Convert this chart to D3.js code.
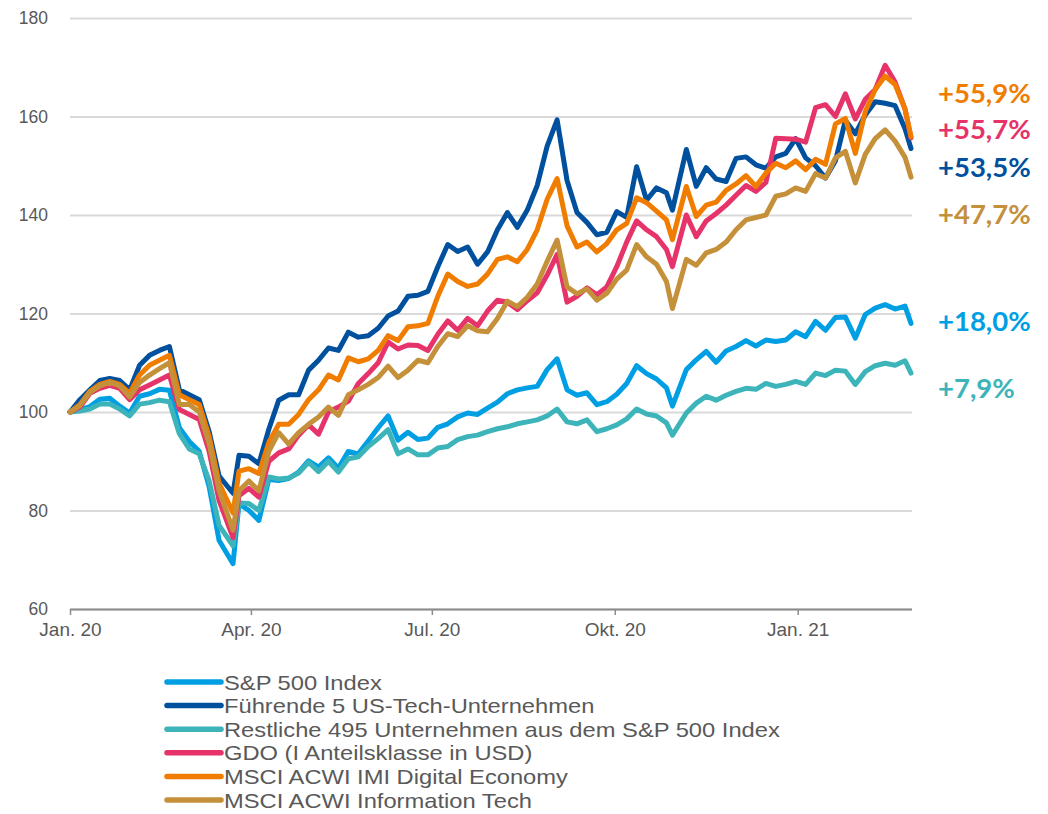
<!DOCTYPE html>
<html lang="de">
<head>
<meta charset="UTF-8">
<title>Performance Tech</title>
<script src="https://cdn.jsdelivr.net/npm/d3@7"></script>
<style>
    body { margin: 0; background: #fff; }
    svg { display: block; font-family: "Liberation Sans", Arial, sans-serif; }
    .grid line { stroke: #d9d9d9; stroke-width: 2px; }
    .grid text, .xaxis text { fill: #595959; }
    .end-label { font-family: Lato, "Open Sans", sans-serif; font-weight: 700; }
</style>
</head>
<body>
<svg width="1048" height="814"></svg>
<script>
// dates of the sampled points (roughly every 5 days)
const dates = [
    "2020-01-01","2020-01-06","2020-01-11","2020-01-16","2020-01-21","2020-01-26","2020-01-31","2020-02-05","2020-02-10","2020-02-15",
    "2020-02-20","2020-02-25","2020-03-01","2020-03-06","2020-03-11","2020-03-16","2020-03-23","2020-03-26","2020-03-31","2020-04-05",
    "2020-04-10","2020-04-15","2020-04-20","2020-04-25","2020-04-30","2020-05-05","2020-05-10","2020-05-15","2020-05-20","2020-05-25",
    "2020-05-30","2020-06-04","2020-06-09","2020-06-14","2020-06-19","2020-06-24","2020-06-29","2020-07-04","2020-07-09","2020-07-14",
    "2020-07-19","2020-07-24","2020-07-29","2020-08-03","2020-08-08","2020-08-13","2020-08-18","2020-08-23","2020-08-28","2020-09-02",
    "2020-09-07","2020-09-12","2020-09-17","2020-09-22","2020-09-27","2020-10-02","2020-10-07","2020-10-12","2020-10-17","2020-10-22",
    "2020-10-27","2020-10-30","2020-11-06","2020-11-11","2020-11-16","2020-11-21","2020-11-26","2020-12-01","2020-12-06","2020-12-11",
    "2020-12-16","2020-12-21","2020-12-26","2020-12-31","2021-01-05","2021-01-10","2021-01-15","2021-01-20","2021-01-25","2021-01-30",
    "2021-02-04","2021-02-09","2021-02-14","2021-02-19","2021-02-24","2021-02-27"
];

const sp500 = [
    100, 100.5, 101.1, 102.6, 102.8, 101.2, 99.8, 103.2, 103.7, 104.6,
    104.4, 96.8, 94, 92, 84.8, 73.9, 69.2, 81.4, 80, 78,
    86.3, 86.1, 86.5, 87.8, 90.1, 88.8, 90.7, 88.6, 92, 91.5,
    94.1, 96.8, 99.2, 94.3, 95.9, 94.4, 94.7, 96.9, 97.6, 99,
    99.8, 99.5, 100.8, 102, 103.7, 104.5, 104.9, 105.2, 108.6, 110.8,
    104.5, 103.4, 103.9, 101.5, 102.1, 103.6, 105.8, 109.4, 107.8, 106.7,
    104.9, 101.2, 108.6, 110.6, 112.3, 110.1, 112.4, 113.3, 114.5, 113.4,
    114.6, 114.3, 114.6, 116.3, 115.3, 118.4, 116.6, 119.2, 119.3, 115,
    119.8, 121.1, 121.8, 120.9, 121.5, 118
];
const top5 = [
    100, 102.5, 104.5, 106.4, 106.8, 106.4, 104.5, 109.5, 111.5, 112.5,
    113.3, 104.5, 103.5, 102.5, 96, 87, 83.5, 91.2, 91, 89.5,
    96.5, 102.4, 103.5, 103.5, 108.5, 110.5, 113, 112.5, 116.2, 115.2,
    115.5, 117, 119.5, 120.5, 123.5, 123.7, 124.5, 129.5, 134, 132.6,
    133.5, 130, 132.5, 137, 140.5, 137.5, 141, 146, 154, 159.3,
    147, 140.5, 138.5, 136, 136.5, 140.7, 139.5, 149.8, 143, 145.5,
    144.5, 141, 153.3, 145.8, 149.6, 147.3, 146.8, 151.5, 151.8, 150.2,
    149.5, 151.8, 152.5, 155.5, 151.6, 150, 147.5, 151, 159.2, 156.5,
    160.3, 163, 162.7, 162.2, 157.5, 153.5
];
const rest495 = [
    100, 100.2, 100.6, 101.6, 101.6, 100.6, 99.2, 101.6, 101.9, 102.4,
    102.1, 95.6, 92.5, 91.5, 86, 77, 72.8, 81.5, 81.4, 80,
    86.8, 86.4, 86.6, 87.6, 89.8, 87.9, 90, 87.8, 90.5, 90.9,
    93, 94.6, 96.4, 91.5, 92.5, 91.3, 91.3, 92.7, 93, 94.4,
    95, 95.3, 96, 96.6, 97, 97.6, 98, 98.4, 99.2, 100.6,
    98, 97.6, 98.4, 96, 96.6, 97.4, 98.6, 100.6, 99.6, 99.2,
    97.8, 95.3, 99.8, 101.8, 103.2, 102.4, 103.4, 104.2, 104.8, 104.6,
    105.8, 105.2, 105.6, 106.2, 105.6, 107.9, 107.4, 108.5, 108.3, 105.6,
    108.2, 109.4, 109.9, 109.5, 110.4, 107.9
];
const gdo = [
    100, 101, 103.8, 104.8, 105.4, 104.8, 102.5, 104.5, 105.5, 106.5,
    107.5, 100.5, 99.5, 98.5, 92, 82, 74.5, 83, 84.5, 82.7,
    90, 91.7, 92.5, 95.3, 97.4, 95.5, 100, 101, 102.2, 105.8,
    107.8, 110, 114.2, 112.8, 113.6, 113.5, 112.5, 115.8, 118.5, 116.6,
    119, 117.5, 120.5, 122.7, 122.3, 120.8, 122.6, 124.2, 127.8, 132,
    122.3, 123.5, 125.2, 123.8, 125.4, 129.5, 134.5, 138.8, 137, 135.6,
    133, 129.5, 140, 135.6, 138.8, 140.3, 142, 144, 146, 144.8,
    146.6, 155.6, 155.5, 155.4, 154.8, 161.8, 162.4, 160, 164.6, 159.5,
    163.5, 165.5, 170.4, 167, 161.5, 155.7
];
const digitalEconomy = [
    100, 101.5, 104.2, 105.6, 106.2, 105.6, 103.8, 107.5, 109.5, 110.5,
    111.5, 103.5, 102.5, 101.5, 95, 85.5, 79.5, 88, 88.5, 87.5,
    93.8, 97.5, 97.5, 99.5, 102.5, 104.5, 107.5, 106.5, 111, 110.2,
    110.8, 112.5, 115.5, 114.5, 117.3, 117.5, 118, 123.5, 128, 126.5,
    125.5, 126, 128, 131, 131.5, 130.5, 133, 137, 143.2, 147.4,
    137.8, 133.5, 134.5, 132.5, 134.2, 137, 138.3, 143.5, 142.5, 140.8,
    139, 135, 145.8, 139.7, 142, 142.6, 145, 146.3, 148, 145.8,
    148.5, 150.5, 149.6, 151, 149.2, 151.3, 150.3, 158.5, 159.6, 152.5,
    161, 165.5, 168.2, 166.5, 161.5, 155.9
];
const infoTech = [
    100, 101.3, 104, 105.3, 106, 105.3, 103, 106, 107.5, 108.8,
    110, 101.5, 101.5, 100, 93.5, 84, 76, 84, 86, 84,
    92, 95.8, 93.5, 95.8, 97.5, 99, 101, 99.3, 103.5, 104.5,
    105.6, 107, 109.3, 107, 108.5, 110.5, 110, 113.3, 115.9, 115.3,
    117.5, 116.5, 116.3, 119, 122.5, 121.4, 123.3, 126, 130.6, 134.9,
    125.4, 124, 125, 122.7, 124.1, 127, 128.8, 134, 131.5, 130,
    126.5, 121, 131, 129.8, 132.3, 133, 134.5, 137, 139, 139.5,
    140, 143.8, 144.3, 145.5, 144.8, 148.4, 147.5, 151.6, 152.9, 146.5,
    152.3, 155.5, 157.3, 155, 151.7, 147.7
];

const seriesNames = [
    "S&P 500 Index",
    "Führende 5 US-Tech-Unternehmen",
    "Restliche 495 Unternehmen aus dem S&P 500 Index",
    "GDO (I Anteilsklasse in USD)",
    "MSCI ACWI IMI Digital Economy",
    "MSCI ACWI Information Tech"
];
const seriesValues = [sp500, top5, rest495, gdo, digitalEconomy, infoTech];
const seriesColors = ["#009fe3", "#00509e", "#3db4b9", "#e6336a", "#f07d00", "#c4903a"];

// performance labels on the right, top to bottom
const endLabels = ["+55,9%", "+55,7%", "+53,5%", "+47,7%", "+18,0%", "+7,9%"];
const endLabelSeries = [4, 3, 1, 5, 0, 2];
const endLabelY = [93, 129, 167, 214, 321, 388];

const yTicks = [60, 80, 100, 120, 140, 160, 180];
const xTickDates = ["2020-01-01", "2020-04-01", "2020-07-01", "2020-10-01", "2021-01-01"];
const xTickLabels = ["Jan. 20", "Apr. 20", "Jul. 20", "Okt. 20", "Jan. 21"];

const parse = d3.timeParse("%Y-%m-%d");
const svg = d3.select("svg");

const x = d3.scaleTime()
    .domain([parse("2020-01-01"), parse("2021-02-27")])
    .range([70, 911]);
const y = d3.scaleLinear().domain([60, 180]).range([609, 18]);

// gridlines + y labels
const gy = svg.append("g").attr("class", "grid")
    .attr("transform", "translate(70,0)")
    .call(d3.axisLeft(y).tickValues(yTicks).tickSize(-842).tickPadding(22));
gy.select(".domain").remove();
gy.selectAll("text").style("font-size", "17.5px");

// x axis
const gx = svg.append("g").attr("class", "xaxis")
    .attr("transform", "translate(0,609)")
    .call(d3.axisBottom(x)
        .tickValues(xTickDates.map(parse))
        .tickFormat((d, i) => xTickLabels[i])
        .tickSize(6).tickSizeOuter(0).tickPadding(8));
gx.select(".domain").attr("d", "M70,0.5H912").attr("stroke", "#8c8c8c").attr("stroke-width", 2);
gx.selectAll(".tick line").attr("stroke", "#8c8c8c").attr("stroke-width", 1.5);
gx.selectAll("text").style("font-size", "19px");

// lines
const line = d3.line()
    .x((v, i) => x(parse(dates[i])))
    .y(v => y(v));

svg.append("g").selectAll("path")
    .data(seriesValues)
    .join("path")
    .attr("d", d => line(d))
    .attr("fill", "none")
    .attr("stroke", (d, i) => seriesColors[i])
    .attr("stroke-width", 5)
    .attr("stroke-linejoin", "round")
    .attr("stroke-linecap", "round");

// end labels
svg.append("g").selectAll("text")
    .data(endLabels)
    .join("text")
    .attr("class", "end-label")
    .attr("x", 938)
    .attr("y", (d, i) => endLabelY[i])
    .attr("dy", "0.36em")
    .attr("fill", (d, i) => seriesColors[endLabelSeries[i]])
    .style("font-size", "27.5px")
    .text(d => d);

// legend (text a bit stretched sideways so the tight rows do not collide)
const legend = svg.append("g").attr("transform", "translate(165,682)");
const rows = legend.selectAll("g")
    .data(seriesNames)
    .join("g")
    .attr("transform", (d, i) => `translate(0,${i * 23.6})`);
rows.append("line")
    .attr("x1", 2).attr("x2", 56)
    .attr("stroke", (d, i) => seriesColors[i])
    .attr("stroke-width", 5.5)
    .attr("stroke-linecap", "round");
rows.append("g")
    .attr("transform", "translate(59,0) scale(1.13,1)")
    .append("text")
    .attr("dy", "0.36em")
    .attr("fill", "#595959")
    .style("font-size", "21px")
    .text(d => d);
</script>
</body>
</html>
